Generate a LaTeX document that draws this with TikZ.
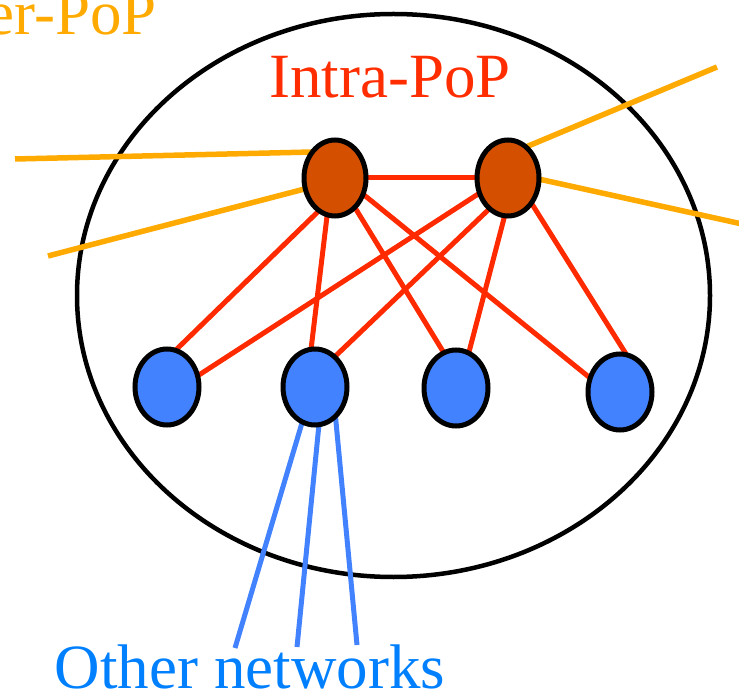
\documentclass[tikz,border=0pt]{standalone}
\usepackage{fontspec}
\setmainfont{Liberation Serif}
\usetikzlibrary{shapes.geometric}
\pgfdeclarelayer{back}
\pgfdeclarelayer{mid}
\pgfsetlayers{back,mid,main}
\definecolor{gold}{RGB}{255,170,0}
\definecolor{redl}{RGB}{255,42,0}
\definecolor{rust}{RGB}{212,80,0}
\definecolor{bluen}{RGB}{66,130,255}
\definecolor{bluet}{RGB}{0,128,255}
\definecolor{redt}{RGB}{255,45,0}
\begin{document}
\begin{tikzpicture}[x=1pt,y=-1pt,
  router/.style={ellipse,draw=black,line width=5pt,inner sep=0pt,outer sep=0pt,
    minimum width=62pt,minimum height=76pt,fill=rust},
  host/.style={router,fill=bluen,minimum width=64pt},
  redlink/.style={draw=redl,line width=5pt},
  goldlink/.style={draw=gold,line width=5.5pt},
  bluelink/.style={draw=bluen,line width=5pt},
  lbl/.style={font=\fontsize{63}{75}\selectfont,inner sep=0pt,anchor=base,text depth=0pt}]
\useasboundingbox (0,0) rectangle (739,692);

\begin{pgfonlayer}{back}
\node[ellipse,draw=black,line width=4.5pt,inner sep=0pt,outer sep=0pt,
  minimum width=633pt,minimum height=563pt] (pop) at (393.5,295.5) {};
\end{pgfonlayer}

\node[router] (L) at (335,178) {};
\node[router] (R) at (508,178) {};
\node[host] (B1) at (167,387) {};
\node[host] (B2) at (315,387) {};
\node[host] (B3) at (456,388) {};
\node[host] (B4) at (620,392) {};

\coordinate (ga) at (15,159);
\coordinate (gb) at (48,256);
\coordinate (gc) at (717,67);
\coordinate (gd) at (742,224);
\coordinate (o1) at (235,648);
\coordinate (o2) at (297,647);
\coordinate (o3) at (357,645);

\begin{pgfonlayer}{mid}
\draw[redlink] (L.0) -- (R.180);
\draw[redlink] (L.244) -- (B1.77);
\draw[redlink] (L.258) -- (B2.96);
\draw[redlink] (L.304) -- (B3.109);
\draw[redlink] (L.330) -- (B4.155);
\draw[redlink] (R.208) -- (B1.20);
\draw[redlink] (R.239) -- (B2.57);
\draw[redlink] (R.265) -- (B3.70);
\draw[redlink] (R.313) -- (B4.80);
\draw[goldlink] (ga) -- (L.131);
\draw[goldlink] (gb) -- (L.200);
\draw[goldlink] (R.60) -- (gc);
\draw[goldlink] (R.-2) -- (gd);
\draw[bluelink] (B2.250) -- (o1);
\draw[bluelink] (B2.276) -- (o2);
\draw[bluelink] (B2.305) -- (o3);
\end{pgfonlayer}

\node[lbl,text=redt] (intra) at (390,98) {Intra-PoP};
\node[lbl,text=bluet] (other) at (250,688) {Other networks};
\node[lbl,text=gold,anchor=base east] (inter) at (157,35) {Inter-PoP};
\end{tikzpicture}
\end{document}
